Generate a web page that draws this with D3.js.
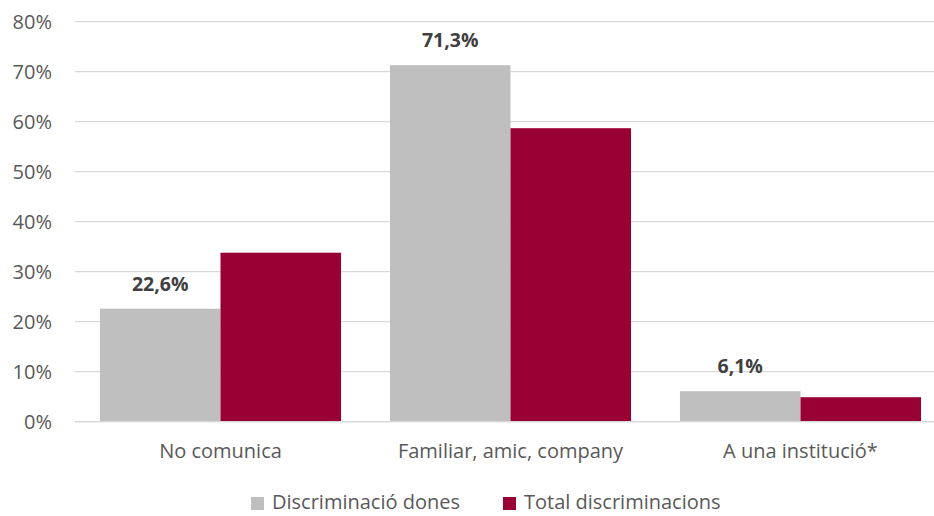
<!DOCTYPE html>
<html>
<head>
<meta charset="utf-8">
<script src="https://cdn.jsdelivr.net/npm/d3@7"></script>
<style>
  body { margin: 0; background: #fff; }
  svg { display: block; font-family: "Open Sans", sans-serif; }
</style>
</head>
<body>
<div id="chart"></div>
<script>
// Data
const categories = ["No comunica", "Familiar, amic, company", "A una institució*"];
const seriesNames = ["Discriminació dones", "Total discriminacions"];
const seriesColors = ["#bfbfbf", "#990033"];
const dones = [22.6, 71.3, 6.1];
const total = [33.8, 58.7, 4.9];
const yTicks = [0, 10, 20, 30, 40, 50, 60, 70, 80];

const width = 934, height = 516;
const fontSize = "20px";

const svg = d3.select("#chart").append("svg")
  .attr("width", width)
  .attr("height", height);

// Scales (plot area runs a bit past the right edge, like the original)
const x0 = d3.scaleBand()
  .domain(categories)
  .range([75.5, 945.5])
  .paddingInner(0)
  .paddingOuter(0);

const x1 = d3.scaleBand()
  .domain(seriesNames)
  .range([0, x0.bandwidth()])
  .paddingOuter(0.203)
  .paddingInner(0);

const y = d3.scaleLinear()
  .domain([0, 80])
  .range([421.7, 21.7]);

// Gridlines
svg.append("g")
  .selectAll("line")
  .data(yTicks)
  .enter().append("line")
  .attr("x1", 75)
  .attr("x2", width)
  .attr("y1", d => y(d))
  .attr("y2", d => y(d))
  .attr("stroke", "#d9d9d9")
  .attr("stroke-width", 1.3);

// Y axis labels
const yAxis = svg.append("g")
  .attr("transform", "translate(60,0)")
  .call(d3.axisLeft(y).tickValues(yTicks).tickSize(0).tickPadding(8).tickFormat(d => d + "%"));
yAxis.select(".domain").remove();
yAxis.selectAll("text")
  .attr("fill", "#595959")
  .style("font-size", fontSize)
  .style("font-family", "'Open Sans', sans-serif");

// Bars
const rows = categories.map((c, i) => ({ cat: c, vals: [dones[i], total[i]] }));

const groups = svg.selectAll(".grp")
  .data(rows)
  .enter().append("g")
  .attr("class", "grp")
  .attr("transform", d => `translate(${x0(d.cat)},0)`);

groups.selectAll("rect")
  .data(d => d.vals.map((v, j) => ({ name: seriesNames[j], v, j })))
  .enter().append("rect")
  .attr("x", d => x1(d.name))
  .attr("width", x1.bandwidth())
  .attr("y", d => y(d.v))
  .attr("height", d => y(0) - y(d.v))
  .attr("fill", d => seriesColors[d.j]);

// Value labels on the grey series
groups.append("text")
  .attr("x", x1(seriesNames[0]) + x1.bandwidth() / 2)
  .attr("y", d => y(d.vals[0]) - 18)
  .attr("text-anchor", "middle")
  .attr("fill", "#404040")
  .style("font-weight", "bold")
  .style("font-size", "19.5px")
  .text(d => d3.format(".1f")(d.vals[0]).replace(".", ",") + "%");

// Baseline
svg.append("line")
  .attr("x1", 75).attr("x2", width)
  .attr("y1", y(0)).attr("y2", y(0))
  .attr("stroke", "#d9d9d9")
  .attr("stroke-width", 1.3);

// X axis labels
svg.append("g")
  .selectAll("text")
  .data(categories)
  .enter().append("text")
  .attr("x", d => x0(d) + x0.bandwidth() / 2)
  .attr("y", 458)
  .attr("text-anchor", "middle")
  .attr("fill", "#595959")
  .style("font-size", fontSize)
  .text(d => d);

// Legend
const legendX = [251, 503];
const legend = svg.append("g");
legend.selectAll("rect")
  .data(seriesNames)
  .enter().append("rect")
  .attr("x", (d, i) => legendX[i])
  .attr("y", 497)
  .attr("width", 13)
  .attr("height", 13)
  .attr("fill", (d, i) => seriesColors[i]);
legend.selectAll("text")
  .data(seriesNames)
  .enter().append("text")
  .attr("x", (d, i) => legendX[i] + 21)
  .attr("y", 509)
  .attr("fill", "#595959")
  .style("font-size", fontSize)
  .text(d => d);
</script>
</body>
</html>
